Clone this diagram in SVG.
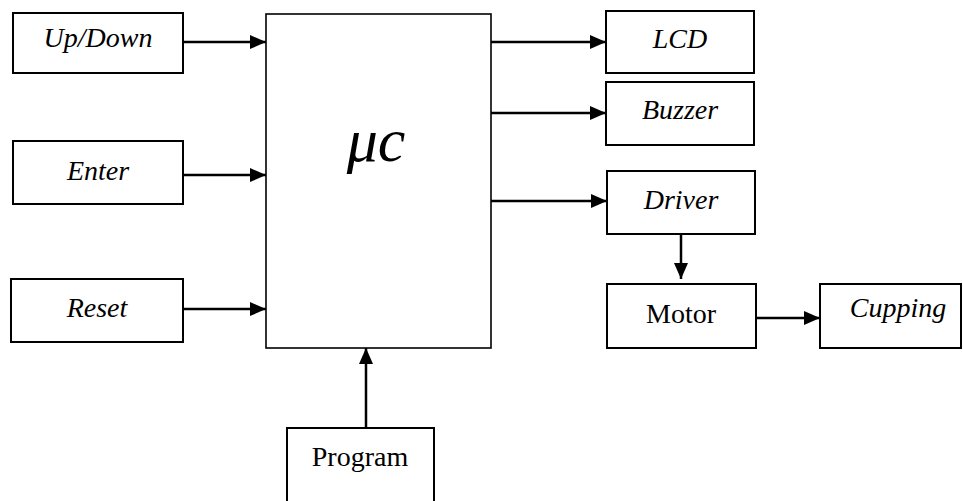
<svg xmlns="http://www.w3.org/2000/svg" width="963" height="501" viewBox="0 0 963 501">
<style>
.box{fill:#fff;stroke:#000;stroke-width:2}
.t{font-family:"Liberation Serif","Times New Roman",serif;font-size:28px;fill:#000;text-anchor:middle}
.i{font-style:italic}
.c{stroke:#000;stroke-width:2.5;fill:none}
</style>
<defs>
<marker id="ah" markerUnits="userSpaceOnUse" markerWidth="16" markerHeight="14" refX="16" refY="7" orient="auto">
<path d="M0,0 L16,7 L0,14 Z" fill="#000"/>
</marker>
</defs>
<rect width="963" height="501" fill="#fff"/>
<g id="connectors">
<line class="c" x1="183" y1="42" x2="266" y2="42" marker-end="url(#ah)"/>
<line class="c" x1="183" y1="175" x2="266" y2="175" marker-end="url(#ah)"/>
<line class="c" x1="183" y1="309" x2="266" y2="309" marker-end="url(#ah)"/>
<line class="c" x1="491" y1="42" x2="606" y2="42" marker-end="url(#ah)"/>
<line class="c" x1="488" y1="113" x2="606" y2="113" marker-end="url(#ah)"/>
<line class="c" x1="491" y1="201" x2="607" y2="201" marker-end="url(#ah)"/>
<line class="c" x1="681" y1="234" x2="681" y2="279" marker-end="url(#ah)"/>
<line class="c" x1="753" y1="318" x2="820" y2="318" marker-end="url(#ah)"/>
<line class="c" x1="366" y1="428" x2="366" y2="348" marker-end="url(#ah)"/>
</g>
<g id="updown"><rect class="box" x="13" y="13" width="170" height="60"/><text class="t i" x="98" y="47">Up/Down</text></g>
<g id="enter"><rect class="box" x="13" y="141" width="170" height="63"/><text class="t i" x="98" y="180">Enter</text></g>
<g id="reset"><rect class="box" x="11" y="279" width="172" height="63"/><text class="t i" x="97" y="317">Reset</text></g>
<g id="uc"><rect class="box" x="266" y="14" width="225" height="334" style="stroke-width:1.6"/><text class="t i" x="376" y="161" style="font-size:62px">μc</text></g>
<g id="lcd"><rect class="box" x="606" y="11" width="148" height="62"/><text class="t i" x="680" y="48">LCD</text></g>
<g id="buzzer"><rect class="box" x="606" y="82" width="148" height="63"/><text class="t i" x="680" y="119">Buzzer</text></g>
<g id="driver"><rect class="box" x="607" y="171" width="148" height="63"/><text class="t i" x="681" y="209">Driver</text></g>
<g id="motor"><rect class="box" x="607" y="284" width="149" height="64"/><text class="t" x="681" y="323">Motor</text></g>
<g id="cupping"><rect class="box" x="820" y="284" width="141" height="64"/><text class="t i" x="898" y="317">Cupping</text></g>
<g id="program"><rect class="box" x="287" y="428" width="147" height="80"/><text class="t" x="360" y="466">Program</text></g>
</svg>
